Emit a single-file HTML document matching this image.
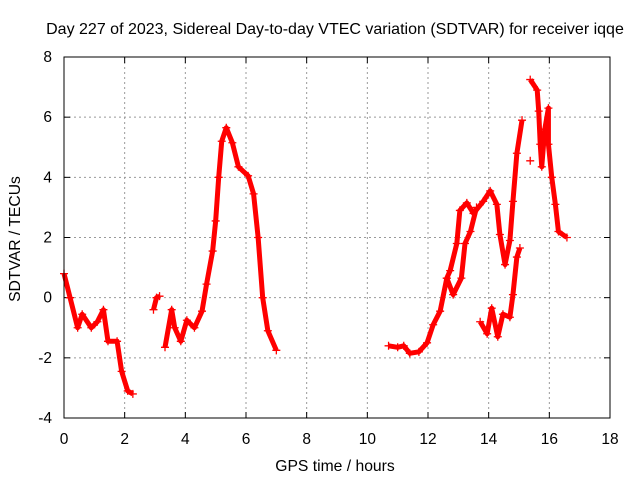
<!DOCTYPE html>
<html><head><meta charset="utf-8"><style>
html,body{margin:0;padding:0;background:#fff}
svg{display:block;font-family:"Liberation Sans",sans-serif}
</style></head><body>
<svg id="chart" width="640" height="480">
<text x="335" y="34" text-anchor="middle" font-size="16">Day 227 of 2023, Sidereal Day-to-day VTEC variation (SDTVAR) for receiver iqqe</text>
<text x="335" y="471" text-anchor="middle" font-size="15.7">GPS time / hours</text>
<text x="20" y="239" text-anchor="middle" font-size="15.7" transform="rotate(-90 20 239)">SDTVAR / TECUs</text>
<g id="grid"></g>
<g id="axes"></g>
<g id="marks"></g>
<rect x="64" y="57" width="546" height="361" fill="none" stroke="#000" stroke-width="1"/>
</svg>
<script>
const xTicks=[0,2,4,6,8,10,12,14,16,18];
const yTicks=[-4,-2,0,2,4,6,8];
const seg1T=[0,0.2,0.45,0.6,0.9,1.1,1.3,1.45,1.75,1.9,2.1,2.27];
const seg1V=[0.8,0,-1.0,-0.55,-1.0,-0.8,-0.4,-1.45,-1.45,-2.45,-3.1,-3.2];
const seg2T=[2.95,3.05,3.15];
const seg2V=[-0.4,0,0.05];
const seg3T=[3.33,3.55,3.65,3.85,4.05,4.3,4.55,4.7,4.9,5.0,5.1,5.2,5.35,5.55,5.75,6.07,6.25,6.4,6.55,6.72,7.0];
const seg3V=[-1.65,-0.4,-1.0,-1.45,-0.75,-1.0,-0.45,0.45,1.55,2.55,4.0,5.2,5.65,5.15,4.35,4.05,3.45,2.0,0,-1.1,-1.75];
const seg4T=[10.7,11.0,11.2,11.4,11.7,11.97,12.17,12.4,12.62,12.73,12.95,13.05,13.28,13.5,13.82,14.05,14.27,14.37,14.54,14.7,14.8,14.93,15.1];
const seg4V=[-1.6,-1.65,-1.6,-1.85,-1.8,-1.5,-0.9,-0.45,0.65,0.9,1.8,2.9,3.15,2.8,3.2,3.55,3.1,2.1,1.1,1.9,3.2,4.8,5.9];
const seg5T=[12.62,12.83,13.1,13.22,13.4,13.6];
const seg5V=[0.65,0.1,0.65,1.8,2.2,3.0];
const seg6T=[13.72,13.95,14.1,14.3,14.47,14.7,14.8,14.93,15.03];
const seg6V=[-0.8,-1.2,-0.35,-1.3,-0.55,-0.65,0.1,1.35,1.65];
const seg7T=[15.37,15.6,15.65,15.7,15.75,15.85,15.97,15.97,16.08,16.2,16.3,16.58];
const seg7V=[7.25,6.9,6.2,5.1,4.35,5.6,6.3,5.1,4.0,3.1,2.2,2.0];
const outT=[15.37];
const outV=[4.55];
const X0=64,X1=610,Y0=418,Y1=57;
const xs=t=>X0+(t-0)/(18-0)*(X1-X0);
const ys=v=>Y0-(v+4)/(12)*(Y0-Y1);
const NS='http://www.w3.org/2000/svg';
function mk(tag,parent){const e=document.createElementNS(NS,tag);parent.appendChild(e);return e;}
const grid=document.getElementById('grid'),axes=document.getElementById('axes'),marks=document.getElementById('marks');
xTicks.forEach(t=>{
  const x=xs(t);
  if(t>0&&t<18){const g=mk('line',grid);g.setAttribute('x1',x);g.setAttribute('x2',x);g.setAttribute('y1',Y1);g.setAttribute('y2',Y0);g.setAttribute('stroke','#999');g.setAttribute('stroke-dasharray','2,3');
  
  }
  [[Y0,Y0-6],[Y1,Y1+6]].forEach(p=>{const k=mk('line',axes);k.setAttribute('x1',x);k.setAttribute('x2',x);k.setAttribute('y1',p[0]);k.setAttribute('y2',p[1]);k.setAttribute('stroke','#000');
  
  });
  const l=mk('text',axes);l.setAttribute('x',x);l.setAttribute('y',444);l.setAttribute('text-anchor','middle');l.setAttribute('font-size','15.5');l.textContent=t;
  
  
});
yTicks.forEach(v=>{
  const y=ys(v);
  if(v>-4&&v<8){const g=mk('line',grid);g.setAttribute('x1',X0);g.setAttribute('x2',X1);g.setAttribute('y1',y);g.setAttribute('y2',y);g.setAttribute('stroke','#999');g.setAttribute('stroke-dasharray','2,3');
  
  }
  [[X0,X0+6],[X1,X1-6]].forEach(p=>{const k=mk('line',axes);k.setAttribute('y1',y);k.setAttribute('y2',y);k.setAttribute('x1',p[0]);k.setAttribute('x2',p[1]);k.setAttribute('stroke','#000');
  
  });
  const l=mk('text',axes);l.setAttribute('x',52);l.setAttribute('y',y+5);l.setAttribute('text-anchor','end');l.setAttribute('font-size','15.5');l.textContent=v;
  
  
});
const series=[[seg1T,seg1V],[seg2T,seg2V],[seg3T,seg3V],[seg4T,seg4V],[seg5T,seg5V],[seg6T,seg6V],[seg7T,seg7V],[outT,outV]];
series.forEach(([T,V])=>{
  if(T.length>1){const p=mk('polyline',marks);p.setAttribute('points',T.map((t,i)=>xs(t)+','+ys(V[i])).join(' '));p.setAttribute('fill','none');p.setAttribute('stroke','#f00');p.setAttribute('stroke-width','5');p.setAttribute('stroke-linejoin','round');
  
  }
  T.forEach((t,i)=>{const x=xs(t),y=ys(V[i]);const m=mk('path',marks);m.setAttribute('d',`M${x-4},${y}H${x+4}M${x},${y-4}V${y+4}`);m.setAttribute('stroke','#f00');m.setAttribute('stroke-width','1.3');
  
  });
});
</script>
</body></html>
